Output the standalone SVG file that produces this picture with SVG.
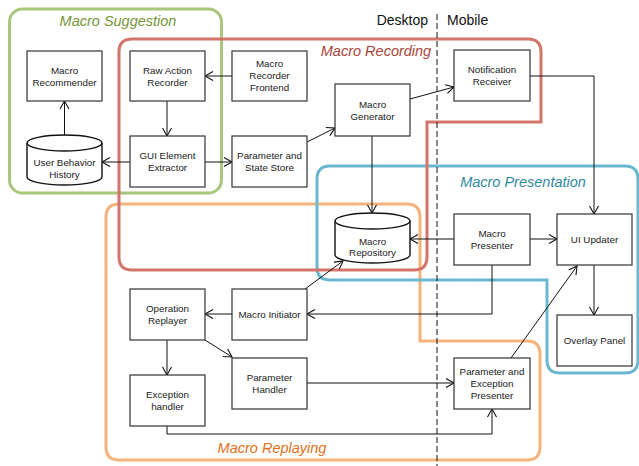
<svg xmlns="http://www.w3.org/2000/svg" width="639" height="466" viewBox="0 0 639 466">
<style>
.region{fill:none;stroke-width:3;}
.box{fill:#fff;stroke:#333;stroke-width:1.2;}
.cyl{fill:#fff;stroke:#111;stroke-width:1.4;}
.t{font-family:"Liberation Sans",Arial,sans-serif;font-size:9.8px;fill:#222;text-anchor:middle;}
.rl{font-family:"Liberation Sans",Arial,sans-serif;font-size:14.5px;font-style:italic;text-anchor:middle;}
.side{font-family:"Liberation Sans",Arial,sans-serif;font-size:14px;fill:#111;}
.c{fill:none;stroke:#111;stroke-width:1;marker-end:url(#a);}
.cn{fill:none;stroke:#111;stroke-width:1;}
</style>
<defs>
<marker id="a" markerUnits="userSpaceOnUse" markerWidth="12" markerHeight="12" viewBox="0 0 12 12" refX="10" refY="6" orient="auto">
<path d="M2,1.5 L10,6 L2,10.5" fill="none" stroke="#111" stroke-width="1.1"/>
</marker>
</defs>
<rect width="639" height="466" fill="#fff"/>

<g id="regions">
<g id="macro-suggestion"><rect class="region" x="9.5" y="9" width="212" height="184" rx="13" stroke="#a8c67c"/><text class="rl" x="118" y="26" fill="#77963a">Macro Suggestion</text></g>
<g id="macro-replaying"><path class="region" stroke="#f5b27a" d="M119,204 H407 Q420,204 420,217 V341 H527 Q540,341 540,354 V447 Q540,460 527,460 H119 Q106,460 106,447 V217 Q106,204 119,204 Z"/><text class="rl" x="272" y="453" fill="#e07020">Macro Replaying</text></g>
<g id="macro-presentation"><path class="region" stroke="#6ab8cf" d="M330,166 H625 Q638,166 638,179 V360 Q638,373 625,373 H560 Q547,373 547,360 V280 H330 Q317,280 317,267 V179 Q317,166 330,166 Z"/><text class="rl" x="523" y="187" fill="#2f8aa0">Macro Presentation</text></g>
<g id="macro-recording"><path class="region" stroke="#d4756b" d="M132,39 H528 Q541,39 541,52 V122 H427 V257 Q427,270 414,270 H132 Q119,270 119,257 V52 Q119,39 132,39 Z"/><text class="rl" x="376" y="56" fill="#a8453b">Macro Recording</text></g>
</g>

<g id="platform">
<line x1="437" y1="14" x2="437" y2="466" stroke="#111" stroke-width="1" stroke-dasharray="6,3"/>
<text class="side" x="428" y="25" text-anchor="end">Desktop</text>
<text class="side" x="447" y="25">Mobile</text>
</g>

<g id="connectors">
<line class="c" x1="232" y1="76" x2="205" y2="76"/>
<line class="c" x1="167" y1="101" x2="167" y2="136"/>
<line class="c" x1="130" y1="162" x2="102" y2="162"/>
<line class="c" x1="205" y1="162" x2="232" y2="162"/>
<line class="c" x1="64.5" y1="135" x2="64.5" y2="101"/>
<line class="c" x1="307" y1="142" x2="335" y2="128"/>
<line class="c" x1="410" y1="99" x2="454" y2="87"/>
<line class="c" x1="372" y1="136" x2="372" y2="213"/>
<polyline class="c" points="530,76 594,76 594,214"/>
<line class="c" x1="454" y1="239" x2="410" y2="239"/>
<line class="c" x1="530" y1="239" x2="557" y2="239"/>
<line class="c" x1="594" y1="265" x2="594" y2="315"/>
<polyline class="c" points="492,265 492,314 307,314"/>
<line class="c" x1="305" y1="289" x2="343" y2="261"/>
<line class="c" x1="232" y1="314" x2="205" y2="314"/>
<line class="c" x1="167" y1="340" x2="167" y2="375"/>
<line class="c" x1="205" y1="340" x2="232" y2="357"/>
<line class="c" x1="307" y1="383" x2="454" y2="383"/>
<polyline class="c" points="167,426 167,434 492,434 492,409"/>
<line class="c" x1="511" y1="358" x2="577" y2="266"/>
</g>

<g id="macro-recommender"><rect class="box" x="27" y="51" width="75" height="50"/><text class="t" x="64.5" y="73.5">Macro</text><text class="t" x="64.5" y="85.5">Recommender</text></g>
<g id="raw-action-recorder"><rect class="box" x="130" y="51" width="75" height="50"/><text class="t" x="167.5" y="73.5">Raw Action</text><text class="t" x="167.5" y="85.5">Recorder</text></g>
<g id="macro-recorder-frontend"><rect class="box" x="232" y="51" width="75" height="50"/><text class="t" x="269.5" y="67">Macro</text><text class="t" x="269.5" y="79">Recorder</text><text class="t" x="269.5" y="91">Frontend</text></g>
<g id="user-behavior-history"><path class="cyl" d="M27,143 V177 A37.5,8 0 0 0 102,177 V143"/><ellipse class="cyl" cx="64.5" cy="143" rx="37.5" ry="8"/><text class="t" x="64.5" y="166">User Behavior</text><text class="t" x="64.5" y="177.5">History</text></g>
<g id="gui-element-extractor"><rect class="box" x="130" y="136" width="75" height="51"/><text class="t" x="167.5" y="158.5">GUI Element</text><text class="t" x="167.5" y="170.5">Extractor</text></g>
<g id="parameter-state-store"><rect class="box" x="232" y="136" width="75" height="51"/><text class="t" x="269.5" y="158.5">Parameter and</text><text class="t" x="269.5" y="170.5">State Store</text></g>
<g id="macro-generator"><rect class="box" x="335" y="84" width="75" height="52"/><text class="t" x="372.5" y="107.5">Macro</text><text class="t" x="372.5" y="119.5">Generator</text></g>
<g id="notification-receiver"><rect class="box" x="454" y="50" width="76" height="51"/><text class="t" x="492" y="73">Notification</text><text class="t" x="492" y="85">Receiver</text></g>
<g id="macro-repository"><path class="cyl" d="M335,221 V255 A37.5,8 0 0 0 410,255 V221"/><ellipse class="cyl" cx="372.5" cy="221" rx="37.5" ry="8"/><text class="t" x="372.5" y="244.5">Macro</text><text class="t" x="372.5" y="255.5">Repository</text></g>
<g id="macro-presenter"><rect class="box" x="454" y="214" width="76" height="51"/><text class="t" x="492" y="237">Macro</text><text class="t" x="492" y="249">Presenter</text></g>
<g id="ui-updater"><rect class="box" x="557" y="214" width="75" height="51"/><text class="t" x="594.5" y="243">UI Updater</text></g>
<g id="overlay-panel"><rect class="box" x="557" y="315" width="75" height="51"/><text class="t" x="594.5" y="344">Overlay Panel</text></g>
<g id="operation-replayer"><rect class="box" x="130" y="289" width="75" height="51"/><text class="t" x="167.5" y="312">Operation</text><text class="t" x="167.5" y="324">Replayer</text></g>
<g id="macro-initiator"><rect class="box" x="232" y="289" width="75" height="51"/><text class="t" x="269.5" y="318">Macro Initiator</text></g>
<g id="exception-handler"><rect class="box" x="130" y="375" width="75" height="51"/><text class="t" x="167.5" y="398">Exception</text><text class="t" x="167.5" y="410">handler</text></g>
<g id="parameter-handler"><rect class="box" x="232" y="358" width="75" height="51"/><text class="t" x="269.5" y="381">Parameter</text><text class="t" x="269.5" y="393">Handler</text></g>
<g id="param-exception-presenter"><rect class="box" x="454" y="358" width="76" height="51"/><text class="t" x="492" y="375">Parameter and</text><text class="t" x="492" y="387">Exception</text><text class="t" x="492" y="399">Presenter</text></g>
</svg>
